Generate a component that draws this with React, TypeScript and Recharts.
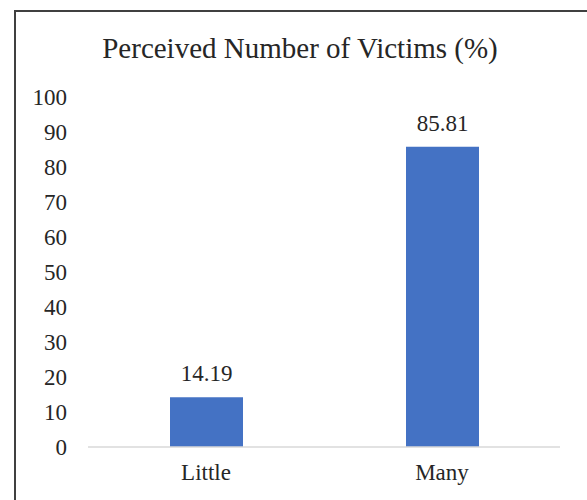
import React from 'react';
import { BarChart, Bar, XAxis, YAxis, LabelList } from 'recharts';

const categories = ['Little', 'Many'];
const percents = [14.19, 85.81];
const yTicks = [0, 10, 20, 30, 40, 50, 60, 70, 80, 90, 100];

const data = categories.map((name, i) => ({ name, value: percents[i] }));

const font = '"Liberation Serif", "Times New Roman", serif';

const App = () => {
  return (
    <div style={{ position: 'absolute', left: 0, top: 0, width: 587, height: 500, background: '#fff', fontFamily: font }}>
      <div
        style={{
          position: 'absolute',
          left: 14,
          top: 10,
          width: 600,
          height: 520,
          borderLeft: '2px solid #404040',
          borderTop: '2px solid #404040',
        }}
      />
      <div
        style={{
          position: 'absolute',
          left: 0,
          top: 30,
          width: 600,
          textAlign: 'center',
          fontSize: 29,
          color: '#262626',
          lineHeight: '36px',
        }}
      >
        Perceived Number of Victims (%)
      </div>
      <div style={{ position: 'absolute', left: 0, top: 0 }}>
        <BarChart width={587} height={500} data={data} margin={{ top: 97, right: 27, bottom: 23, left: 0 }}>
          <XAxis
            dataKey="name"
            axisLine={{ stroke: '#d9d9d9', strokeWidth: 1.5 }}
            tickLine={false}
            tickMargin={11}
            tick={{ fill: '#262626', fontSize: 23, fontFamily: font }}
          />
          <YAxis
            width={88}
            domain={[0, 100]}
            ticks={yTicks}
            axisLine={false}
            tickLine={false}
            tickMargin={15}
            tick={{ fill: '#262626', fontSize: 23, fontFamily: font }}
          />
          <Bar dataKey="value" fill="#4472C4" barSize={73} isAnimationActive={false}>
            <LabelList dataKey="value" position="top" offset={16} fill="#262626" fontSize={23} fontFamily={font} />
          </Bar>
        </BarChart>
      </div>
    </div>
  );
};

export default App;
